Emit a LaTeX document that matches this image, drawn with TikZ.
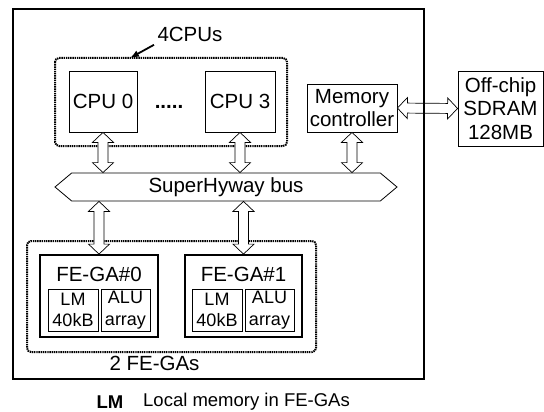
\documentclass[tikz,border=0pt]{standalone}
\usepackage{fontspec}
\setmainfont{Liberation Sans}
\usetikzlibrary{calc,shapes.symbols,arrows.meta}

\tikzset{
  big/.style={font=\fontsize{20.5}{23.5}\selectfont},
  small/.style={font=\fontsize{18}{21.5}\selectfont},
  unitbox/.style={draw, line width=0.8pt, inner sep=0pt, align=center, big},
  lmbox/.style={draw, line width=0.8pt, inner sep=0pt, align=center, small,
    minimum height=42pt},
  groupbox/.style={dash pattern=on 1.4pt off 0.8pt, line width=2pt, rounded corners=4pt},
  hollow/.style={draw, fill=white, line width=0.7pt, to path={
    let \p1=($(\tikztotarget)-(\tikztostart)$), \n1={atan2(\y1,\x1)},
        \n2={veclen(\x1,\y1)} in
    {[shift={(\tikztostart)}, rotate=\n1]
      (0pt,0pt) -- (10pt,10.5pt) -- (10pt,5pt) -- ({\n2*1pt-10pt},5pt)
      -- ({\n2*1pt-10pt},10.5pt) -- ({\n2*1pt},0pt) -- ({\n2*1pt-10pt},-10.5pt)
      -- ({\n2*1pt-10pt},-5pt) -- (10pt,-5pt) -- (10pt,-10.5pt) -- cycle}}}
}

\begin{document}
\begin{tikzpicture}[x=1pt, y=-1pt]
    \useasboundingbox (0,0) rectangle (544,412);

    \draw [groupbox] (55,58) rectangle (287,146);
    \draw [groupbox] (27,241) rectangle (316,352);

    \node [unitbox, minimum width=68pt, minimum height=61pt] (cpu0) at (103,101.5) {CPU 0};
    \node [unitbox, minimum width=70pt, minimum height=61pt] (cpu3) at (240,101.5) {CPU 3};
    \node [big, anchor=base] (cpudots) at (169,108) {\bfseries .....};
    \node [big] (ncpu) at (190,34) {4CPUs};
    \coordinate (cpugrp) at (130,58);
    \draw [line width=1.8pt, -{Latex[length=9pt,width=7pt]}] (ncpu.south west) -- (cpugrp);

    \node [unitbox, minimum width=90pt, minimum height=48pt] (memctl) at (352,108) {Memory\\controller};
    \node [unitbox, minimum width=85pt, minimum height=75pt] (sdram) at (500.5,108.5) {Off-chip\\SDRAM\\128MB};

    \node [signal, signal to=west and east, signal pointer angle=80, draw, line width=0.8pt,
        minimum width=342pt, minimum height=28pt, inner sep=0pt, big] (bus) at (226,187) {SuperHyway bus};

    \node [draw, line width=1.8pt, minimum width=118pt, minimum height=82pt] (fega0) at (99,296) {};
    \node [draw, line width=1.8pt, minimum width=117pt, minimum height=82pt] (fega1) at (243.5,296) {};
    \node [big] (fegat0) at (99,274) {FE-GA\#0};
    \node [big] (fegat1) at (243.5,274) {FE-GA\#1};
    \node [lmbox, minimum width=50pt] (lm0) at (73,310) {LM\\40kB};
    \node [lmbox, minimum width=49pt] (alu0) at (125.5,310) {ALU\\array};
    \node [lmbox, minimum width=50pt] (lm1) at (217,310) {LM\\40kB};
    \node [lmbox, minimum width=49pt] (alu1) at (269.5,310) {ALU\\array};
    \node [big] (nfega) at (154.5,363) {2 FE-GAs};

    \draw [hollow] (cpu0.south) to (cpu0.south |- bus.north);
    \draw [hollow] (cpu3.south) to (cpu3.south |- bus.north);
    \draw [hollow] (memctl.south) to (memctl.south |- bus.north);
    \draw [hollow] (bus.south -| fega0.north) to (fega0.north);
    \draw [hollow] (bus.south -| fega1.north) to (fega1.north);
    \draw [hollow] (memctl.east) to (sdram.west);

    \draw [line width=2.5pt] (13,9) rectangle (424,379);

    \node [font=\fontsize{18.5}{22}\selectfont\bfseries] (lmkey) at (110,402) {LM};
    \node [font=\fontsize{18.5}{22}\selectfont, anchor=west, inner sep=0pt] (lmtext) at (143,402) {Local memory in FE-GAs};
\end{tikzpicture}
\end{document}
